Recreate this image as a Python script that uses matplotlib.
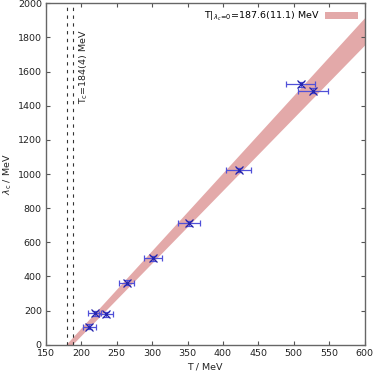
import matplotlib
matplotlib.use("Agg")
import matplotlib.pyplot as plt
import numpy as np
from matplotlib.patches import Patch

# data
T = [211.2, 218.8, 234.7, 264.0, 300.7, 351.5, 422.2, 510.2, 527.1]
T_err = [8.8, 8.9, 9.9, 10.9, 12.7, 15.5, 17.7, 20.5, 21.6]
lam = [105, 184, 178, 363, 506, 711, 1023, 1525, 1488]
lam_err = [14, 14, 14, 14, 14, 14, 14, 14, 14]

# band edges (lambda=0 crossing, value at T=600)
band_upper = [178.0, 1915.0]
band_lower = [187.0, 1755.0]
band_T = [150, 600]

Tc_lines = [180, 188]
xticks = [150, 200, 250, 300, 350, 400, 450, 500, 550, 600]
yticks = [0, 200, 400, 600, 800, 1000, 1200, 1400, 1600, 1800, 2000]

plt.rcParams['font.family'] = ['DejaVu Sans']
plt.rcParams['font.size'] = 6.8
plt.rcParams['mathtext.fontset'] = 'dejavusans'

fig = plt.figure(figsize=(3.74, 3.75), dpi=100)
ax = fig.add_axes([46/374, 1-344.7/375, (364.5-46)/374, (344.7-3.3)/375])

tt = np.linspace(band_T[0], band_T[1], 200)
def line(p, t):
    slope = p[1] / (600 - p[0])
    return slope * (t - p[0])
up = line(band_upper, tt)
lo = line(band_lower, tt)
ax.fill_between(tt, lo, up, color='#e3a9a9', lw=0, zorder=1)

for x in Tc_lines:
    ax.axvline(x, color='#333333', ls=(0, (3, 4)), lw=0.8, zorder=2)

ax.errorbar(T, lam, xerr=T_err, yerr=lam_err, fmt='x', color='#2222aa', ecolor='#5050d8',
            ms=6, mew=0.9, elinewidth=0.9, capsize=2, capthick=0.9, zorder=3)

ax.text(203.5, 1630, r'T$_\mathregular{c}$=184(4) MeV', rotation=90, ha='center', va='center',
        fontsize=6.8, color='#222222')

handle = Patch(facecolor='#e3a9a9', edgecolor='none')
leg = ax.legend([handle], [r'T$|_{\lambda_c\!=\!0}$=187.6(11.1) MeV'], loc='upper right',
                frameon=False, markerfirst=False, handlelength=3.5, handleheight=0.8,
                borderaxespad=0.3, handletextpad=0.6, fontsize=6.8)

ax.set_xlim(150, 600)
ax.set_ylim(0, 2000)
ax.set_xticks(xticks)
ax.set_yticks(yticks)
ax.tick_params(direction='in', top=True, right=True, length=3, width=0.8,
               color='#555555', labelcolor='#222222', pad=3)
for s in ax.spines.values():
    s.set_color('#666666')
    s.set_linewidth(1.0)

ax.set_xlabel('T / MeV', color='#222222', labelpad=3)
fig.text(8/374, 1-174/375, r'$\lambda_\mathregular{c}$ / MeV', rotation=90, ha='center',
         va='center', color='#222222', fontsize=6.8)

fig.savefig('out.png', dpi=100)
